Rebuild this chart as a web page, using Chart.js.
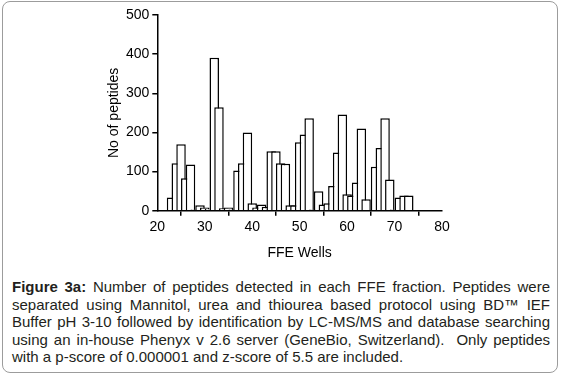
<!DOCTYPE html>
<html lang="en">
<head>
    <meta charset="UTF-8" />
    <title>Peptides per FFE well</title>
    <style>
        body {
            margin: 0;
            background: #fff;
            font-family: 'Liberation Sans', Arial, sans-serif;
        }
        .figure {
            position: relative;
            width: 562px;
            height: 376px;
            overflow: hidden;
        }
        .frame {
            position: absolute;
            left: 2px;
            top: 1px;
            width: 554px;
            height: 370px;
            border: 1px solid #9c9c9c;
            border-radius: 8px;
        }
        #wellChart {
            position: absolute;
            left: 0;
            top: 0;
        }
        .caption {
            position: absolute;
            left: 12px;
            top: 278px;
            width: 538px;
            font-size: 15px;
            line-height: 17.5px;
            color: #231f20;
        }
        .caption div {
            text-align: justify;
            text-align-last: justify;
            white-space: nowrap;
        }
        .caption div.last {
            text-align-last: left;
        }
    </style>
    <script src="https://cdn.jsdelivr.net/npm/chart.js"></script>
</head>
<body>
    <div class="figure">
        <div class="frame"></div>
        <canvas id="wellChart" width="562" height="270"></canvas>
        <div class="caption">
            <div><b>Figure 3a:</b> Number of peptides detected in each FFE fraction. Peptides were</div>
            <div>separated using Mannitol, urea and thiourea based protocol using BD™ IEF</div>
            <div>Buffer pH 3-10 followed by identification by LC-MS/MS and database searching</div>
            <div>using an in-house Phenyx v 2.6 server (GeneBio, Switzerland).&nbsp; Only peptides</div>
            <div class="last">with a p-score of 0.000001 and z-score of 5.5 are included.</div>
        </div>
    </div>

    <script>
        // FFE well positions (bar centres) and peptide counts
        const wells = [
            23, 24, 25, 26, 27, 28, 29, 30, 31, 32,
            33, 34, 35, 36, 37, 38, 39, 40, 41, 42,
            43, 44, 45, 46, 47, 48, 49, 50, 51, 52,
            53, 54, 55, 56, 57, 58, 59, 60, 61, 62,
            63, 64, 65, 66, 67, 68, 69, 70, 71, 72, 73
        ];
        const peptides = [
            34, 121, 170, 83, 118, 3, 14, 8, 5, 391,
            264, 6, 8, 3, 103, 121, 200, 19, 8, 16,
            10, 152, 152, 121, 120, 14, 14, 175, 195, 236,
            3, 50, 16, 19, 63, 149, 246, 42, 39, 72,
            210, 29, null, 112, 160, 236, 80, 3, 34, 39, 39
        ];

        const xTicks = [20, 30, 40, 50, 60, 70, 80];
        const yTicks = [0, 100, 200, 300, 400, 500];

        const axisFont = { family: "'Liberation Sans', Arial, sans-serif", size: 14 };

        const points = wells.map((w, i) => ({ x: w, y: peptides[i] }));

        new Chart(document.getElementById('wellChart'), {
            type: 'bar',
            data: {
                datasets: [{
                    label: 'No of peptides',
                    data: points,
                    backgroundColor: '#ffffff',
                    borderColor: '#000000',
                    borderWidth: 1.5,
                    categoryPercentage: 1,
                    barPercentage: 2
                }]
            },
            options: {
                responsive: false,
                animation: false,
                layout: {
                    padding: { left: 100, right: 120, top: 15, bottom: 0 }
                },
                plugins: {
                    legend: { display: false },
                    tooltip: { enabled: false }
                },
                scales: {
                    x: {
                        type: 'linear',
                        offset: false,
                        min: 20,
                        max: 80,
                        afterBuildTicks: (scale) => {
                            scale.ticks = xTicks.map(v => ({ value: v }));
                        },
                        afterFit: (scale) => { scale.height = 59.3; },
                        ticks: { color: '#000', font: axisFont, padding: 3, maxRotation: 0 },
                        grid: {
                            drawOnChartArea: false,
                            tickLength: 5,
                            color: '#000',
                            lineWidth: 1.5
                        },
                        border: { color: '#000', width: 1.5 },
                        title: {
                            display: true,
                            text: 'FFE Wells',
                            color: '#000',
                            font: axisFont,
                            padding: { top: 0, bottom: 8 }
                        }
                    },
                    y: {
                        min: 0,
                        max: 500,
                        afterBuildTicks: (scale) => {
                            scale.ticks = yTicks.map(v => ({ value: v }));
                        },
                        afterFit: (scale) => { scale.width = 57.3; },
                        ticks: { color: '#000', font: axisFont, padding: 3 },
                        grid: {
                            drawOnChartArea: false,
                            tickLength: 5,
                            color: '#000',
                            lineWidth: 1.5
                        },
                        border: { color: '#000', width: 1.5 },
                        title: {
                            display: true,
                            text: 'No of peptides',
                            color: '#000',
                            font: axisFont,
                            padding: { top: 6, bottom: 0 }
                        }
                    }
                }
            }
        });
    </script>
</body>
</html>
